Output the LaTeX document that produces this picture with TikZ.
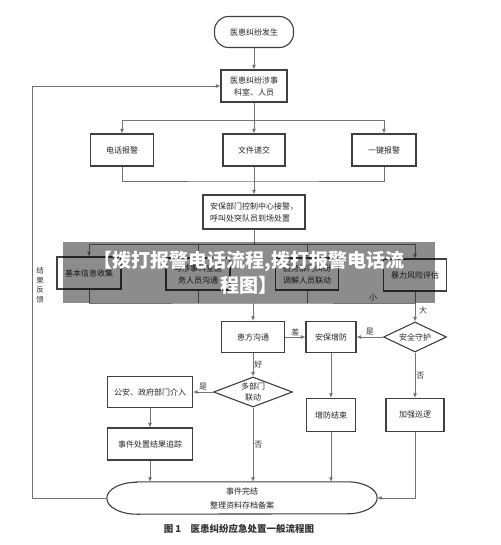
\documentclass[tikz,border=0pt]{standalone}
\usepackage{fontspec}
\setmainfont{Noto Sans CJK SC}
\usetikzlibrary{arrows.meta,shapes.geometric}

\begin{document}
\begin{tikzpicture}[x=1pt,y=-1pt,
  box/.style={draw=black!75,line width=1.1pt,fill=white,minimum height=32pt,inner sep=1pt,
    font=\fontsize{8}{12}\selectfont,text=black!85},
  dia/.style={draw=black!75,line width=1.1pt,fill=white,diamond,aspect=2.4,inner sep=0pt,
    font=\fontsize{8}{11}\selectfont,text=black!85},
  line/.style={draw=black!55,line width=0.8pt},
  arr/.style={line,-{Latex[length=4.5pt,width=4pt]}},
  lbl/.style={font=\fontsize{8}{10}\selectfont,text=black!80,inner sep=1pt}]
\fill[white] (0,0) rectangle (500,545);
\useasboundingbox (0,0) rectangle (500,545);

\node[box,rounded corners=14pt,minimum width=79pt,minimum height=31pt] (start) at (254,32) {医患纠纷发生};
\node[box,minimum width=66pt,align=center] (dept) at (254,86) {医患纠纷涉事\\科室、人员};
\node[box,minimum width=63pt] (tel) at (122,150) {电话报警};
\node[box,minimum width=62pt] (file) at (254,150) {文件递交};
\node[box,minimum width=64pt] (key) at (384,150) {一键报警};
\node[box,minimum width=102pt,minimum height=34pt,align=left] (ctrl) at (254,212) {安保部门控制中心接警，\\呼叫处突队员到场处置};
\node[box,minimum width=64pt] (info) at (89,273) {基本信息收集};
\node[box,minimum width=64pt,align=center] (comm) at (198,274) {与涉事科室医\\务人员沟通};
\node[box,minimum width=63pt,align=center] (med) at (307,274) {医务部门纠纷\\调解人员联动};
\node[box,minimum width=63pt] (risk) at (415,275) {暴力风险评估};
\node[box,minimum width=63pt,minimum height=31pt] (talk) at (253,337) {患方沟通};
\node[box,minimum width=50pt,minimum height=31pt] (guard) at (331,337) {安保增防};
\node[dia,minimum width=63pt,minimum height=30pt] (safe) at (415,337) {安全守护};
\node[dia,minimum width=79pt,minimum height=30pt,align=center] (multi) at (253,392) {多部门\\联动};
\node[box,minimum width=85pt,minimum height=31pt] (police) at (150,392) {公安、政府部门介入};
\node[box,minimum width=85pt] (track) at (150,444) {事件处置结果追踪};
\node[box,minimum width=49pt,minimum height=33pt] (endg) at (331,415) {增防结束};
\node[box,minimum width=58pt,minimum height=33pt] (patrol) at (415,415) {加强巡逻};
\node[font=\fontsize{8}{14}\selectfont,text=black!85,minimum width=270pt,minimum height=32pt,inner sep=0pt,align=center] (done) at (242,498) {事件完结\\整理资料存档备案};
\draw[draw=black!75,line width=1.1pt] ([xshift=30pt]done.north west) -- ([xshift=-30pt]done.north east)
  arc[start angle=90,end angle=-90,x radius=30pt,y radius=16pt] -- ([xshift=30pt]done.south west)
  arc[start angle=270,end angle=90,x radius=30pt,y radius=16pt] -- cycle;
\node[lbl,font=\fontsize{7.5}{9.5}\selectfont,align=center] (fbtxt) at (40,285) {结\\果\\反\\馈};

\coordinate (s1) at (254,120);
\coordinate (m1) at (254,181);
\coordinate (s2) at (254,244);
\coordinate (m2) at (253,303);
\coordinate (fb) at (32,498);

\draw[arr] (start) -- (dept);
\draw[line] (dept) -- (s1);
\draw[arr] (s1) -| (tel);
\draw[arr] (s1) -- (file);
\draw[arr] (s1) -| (key);
\draw[line] (tel) |- (m1) -| (key);
\draw[arr] (file) -- (ctrl);
\draw[line] (ctrl) -- (s2);
\draw[arr] (s2) -| (info);
\draw[arr] (s2) -| (comm);
\draw[arr] (s2) -| (med);
\draw[arr] (s2) -| (risk);
\draw[line] (info) |- (m2) -| (risk);
\draw[line] (comm) -- (comm |- m2);
\draw[line] (med) -- (med |- m2);
\draw[arr] (m2) -- (talk);
\draw[arr] (risk) -- (safe);
\node[lbl] (small) at (373,298) {小};
\node[lbl] (big) at (423,310) {大};
\draw[arr] (talk) -- node[lbl,above] {差} (guard);
\draw[arr] (safe) -- node[lbl,above] {是} (guard);
\draw[arr] (talk) -- node[lbl,right] {好} (multi);
\draw[arr] (multi) -- node[lbl,above] {是} (police);
\draw[arr] (multi) -- node[lbl,right] {否} (multi |- done.north);
\draw[arr] (police) -- (track);
\draw[arr] (track) -- (track |- done.north);
\draw[arr] (guard) -- (endg);
\draw[arr] (endg) -- (endg |- done.north);
\draw[arr] (safe) -- node[lbl,right] {否} (patrol);
\draw[arr] (patrol) |- (done.east);
\draw[arr] (done.west) -- (fb) |- (dept);

\node[font=\fontsize{9.5}{12}\selectfont\bfseries,text=black!80] (cap) at (239,529) {图 1\quad 医患纠纷应急处置一般流程图};

\node[fill=black,fill opacity=0.45,text opacity=1,text=white,minimum width=372pt,minimum height=61pt,
  align=center,font=\fontsize{19}{25}\selectfont\bfseries] (wm) at (249,272.5) {【拨打报警电话流程,拨打报警电话流\\程图】};
\end{tikzpicture}
\end{document}
